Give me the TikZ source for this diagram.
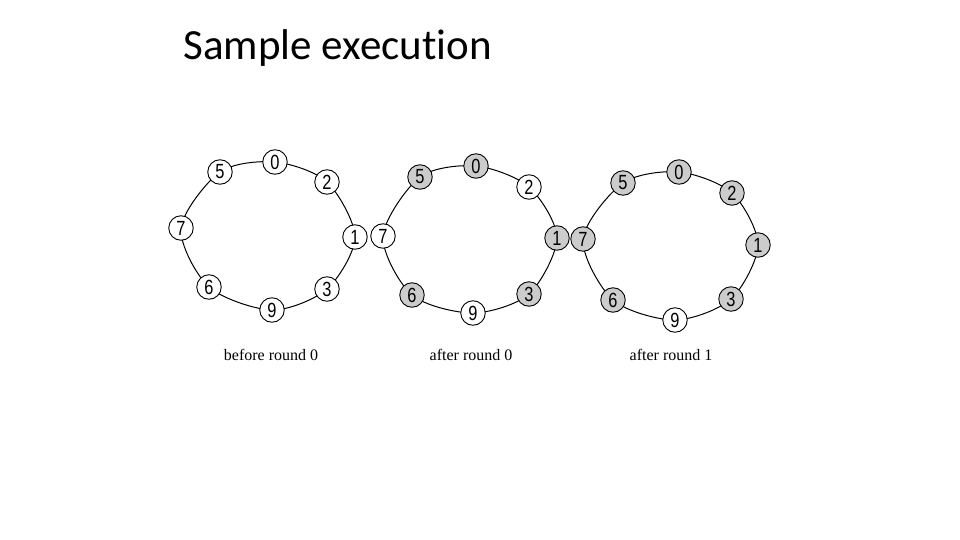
\documentclass[tikz,border=0pt]{standalone}
\usepackage{fontspec}
\setmainfont{Liberation Serif}
\newfontfamily\titlefont[Ligatures=NoCommon]{Carlito}
\newfontfamily\digitfont[FakeStretch=0.8]{Liberation Sans}
\usetikzlibrary{backgrounds}

\begin{document}
\begin{tikzpicture}[x=1pt,y=-1pt,
    peer/.style={draw,circle,line width=0.9pt,minimum size=24.5pt,inner sep=0pt,
      font=\digitfont\fontsize{20.5}{20.5}\selectfont},
    ring/.style={line width=1pt},
    caption/.style={font=\fontsize{16}{16}\selectfont}]
  \useasboundingbox (0,0) rectangle (960,540);

  \node[font=\titlefont\fontsize{43}{43}\selectfont,anchor=base west] (title) at (180,60) {Sample execution};

  % before round 0
  \foreach \n/\x/\y/\f in {0/275/162/white,5/220/172/white,2/327/182/white,7/181/228/white,
                           1/355/237/white,6/209/287/white,3/327/289/white,9/272/310/white}{
    \node[peer,fill=\f] (a\n) at (\x,\y) {\n};
  }
  % after round 0
  \foreach \n/\x/\y/\f in {0/476/166/gray!40,5/420/177/gray!40,2/529/187/white,7/383/236/white,
                           1/557/238/gray!40,6/412/295/gray!40,3/529/294/gray!40,9/473/313/white}{
    \node[peer,fill=\f] (b\n) at (\x,\y) {\n};
  }
  % after round 1
  \foreach \n/\x/\y/\f in {0/679/172/gray!40,5/623/183/gray!40,2/732/193/gray!40,7/583/239/gray!40,
                           1/758/245/gray!40,6/613/300/gray!40,3/731/299/gray!40,9/675/320/white}{
    \node[peer,fill=\f] (c\n) at (\x,\y) {\n};
  }

  \begin{pgfonlayer}{background}
    \foreach \r in {a,b,c}{
      \draw[ring] plot[smooth cycle] coordinates {(\r0) (\r2) (\r1) (\r3) (\r9) (\r6) (\r7) (\r5)};
    }
  \end{pgfonlayer}

  \node[caption] (cap1) at (271,355) {before round 0};
  \node[caption] (cap2) at (471,355) {after round 0};
  \node[caption] (cap3) at (671,355) {after round 1};
\end{tikzpicture}
\end{document}
